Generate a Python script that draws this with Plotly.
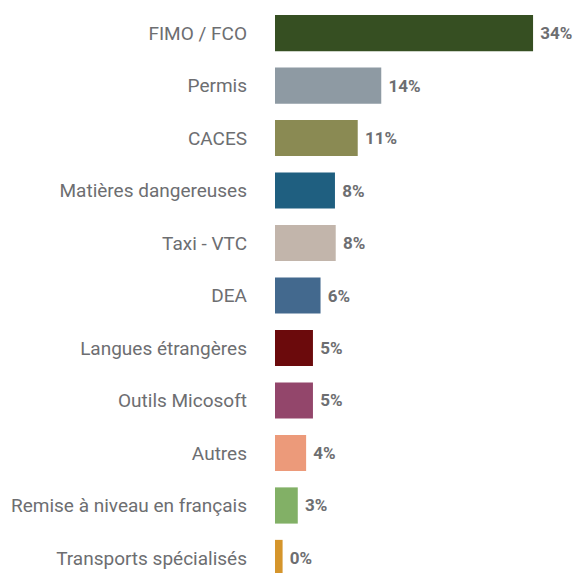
import plotly.graph_objects as go

categories = [
    "FIMO / FCO",
    "Permis",
    "CACES",
    "Matières dangereuses",
    "Taxi - VTC",
    "DEA",
    "Langues étrangères",
    "Outils Micosoft",
    "Autres",
    "Remise à niveau en français",
    "Transports spécialisés",
]
values = [34, 14, 10.9, 7.9, 8, 6, 5, 5, 4.1, 3, 1.0]
pct_labels = ["34%", "14%", "11%", "8%", "8%", "6%", "5%", "5%", "4%", "3%", "0%"]
colors = [
    "#364F22", "#8E9AA3", "#8A8A53", "#1F5F80", "#C2B5AB", "#43698E",
    "#6B0A0C", "#93466B", "#EC9A7A", "#82B066", "#D5952C",
]

fig = go.Figure(
    go.Bar(
        x=values,
        y=categories,
        orientation="h",
        marker=dict(color=colors, line=dict(width=0)),
        text=[" " + t for t in pct_labels],
        textposition="outside",
        cliponaxis=False,
        textfont=dict(family="Roboto", size=17, color="#6d6e71", weight="bold"),
        hoverinfo="skip",
    )
)

fig.update_layout(
    width=580,
    height=573,
    margin=dict(l=275, r=0, t=0, b=0),
    paper_bgcolor="white",
    plot_bgcolor="white",
    bargap=0.31,
    showlegend=False,
    font=dict(family="Roboto", color="#6d6e71"),
)
fig.update_xaxes(
    range=[0, 305 / 7.59],
    visible=False,
    showgrid=False,
    zeroline=False,
)
fig.update_yaxes(
    type="category",
    range=[10.286, -0.629],
    showgrid=False,
    zeroline=False,
    showline=False,
    ticks="",
    ticklabelstandoff=27,
    tickfont=dict(family="Roboto", size=19, color="#6d6e71"),
)

fig.write_html("out.html")
